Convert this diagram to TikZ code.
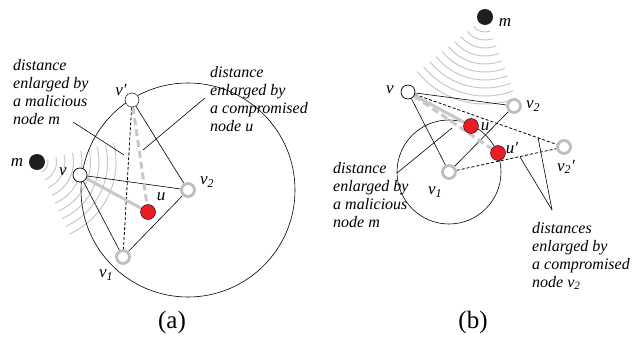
\documentclass[tikz,border=0pt]{standalone}
\usepackage{fontspec}
\setmainfont{Liberation Serif}
\usetikzlibrary{backgrounds}

\definecolor{ringgray}{RGB}{190,190,190}
\definecolor{wavegray}{RGB}{200,200,200}
\definecolor{hitred}{RGB}{232,30,38}

\tikzset{
  beacon/.style={circle, draw, fill=white, line width=0.7pt, minimum size=14pt, inner sep=0pt},
  fakepos/.style={beacon, densely dotted},
  anchorring/.style={circle, draw=ringgray, line width=2.8pt, fill=white, minimum size=13pt, inner sep=0pt},
  badnode/.style={circle, draw=black, line width=0.4pt, fill=hitred, minimum size=15pt, inner sep=0pt},
  attacker/.style={circle, fill=black!88, minimum size=16pt, inner sep=0pt},
  link/.style={line width=0.6pt},
  fakelink/.style={line width=0.8pt, dash pattern=on 3pt off 2pt},
  graylink/.style={line width=3pt, draw=wavegray},
  graydash/.style={graylink, dash pattern=on 7pt off 4pt},
  wave/.style={line width=1pt, draw=wavegray},
  callout/.style={line width=0.6pt},
  lbl/.style={font=\itshape\fontsize{17}{20}\selectfont, inner sep=0pt},
  note/.style={font=\itshape\fontsize{16}{18}\selectfont, align=left, anchor=north west, inner sep=0pt},
  caption/.style={font=\fontsize{25}{30}\selectfont, inner sep=0pt},
}

\begin{document}
\begin{tikzpicture}[x=1pt, y=-1pt, line cap=round, line join=round]

  %% ════ (a): nodes ════
  \node[attacker]   (ma)  at (37,162)  {};
  \node[beacon]     (va)  at (80,175)  {};
  \node[fakepos]    (vpa) at (132,100) {};
  \node[anchorring] (v1a) at (123,257) {};
  \node[anchorring] (v2a) at (188,190) {};
  \node[badnode]    (ua)  at (148,212) {};

  %% ════ (b): nodes ════
  \node[attacker]   (mb)   at (485,17)  {};
  \node[beacon]     (vb)   at (408,92)  {};
  \node[anchorring] (v2b)  at (514,106) {};
  \node[anchorring] (v2pb) at (564,147) {};
  \node[anchorring] (v1b)  at (449,172) {};
  \node[badnode]    (ub)   at (471,126) {};
  \node[badnode]    (upb)  at (498,153) {};

  %% ════ callout ends ════
  \coordinate (ca1) at (73,122);   \coordinate (ca2) at (124,155);
  \coordinate (ca3) at (205,98);   \coordinate (ca4) at (143,150);
  \coordinate (cb1) at (397,173);  \coordinate (cb2) at (452,128);
  \coordinate (cb3) at (552,210);
  \coordinate (cb4) at (538,137.5); \coordinate (cb5) at (520,157);

  \begin{scope}[on background layer]
    %% ════ signal arcs ════
    \foreach \r in {11,19.5,...,83}
      \draw[wave] ([shift={(-14:\r)}]ma.center) arc[start angle=-14, end angle=66, radius=\r];
    \foreach \r in {15,23,...,88}
      \draw[wave] ([shift={(69:\r)}]mb.center) arc[start angle=69, end angle=141, radius=\r];

    %% ════ (a): range circle and links ════
    \draw[link] (v2a.center) circle (107);
    \draw[link] (va) -- (v2a);
    \draw[link] (va) -- (v1a);
    \draw[link] (vpa) -- (v2a);
    \draw[link] (v1a) -- (v2a);
    \draw[fakelink] (vpa) -- (v1a);
    \draw[graylink] (va) -- (ua);
    \draw[graydash] (vpa) -- (ua);
    \draw[callout] (ca1) -- (ca2);
    \draw[callout] (ca3) -- (ca4);

    %% ════ (b): range circle and links ════
    \draw[link] (v1b.center) circle (52);
    \draw[link] (vb) -- (v2b);
    \draw[link] (vb) -- (v1b);
    \draw[link] (v1b) -- (v2b);
    \draw[fakelink] (vb) -- (v2pb);
    \draw[fakelink] (v1b) -- (v2pb);
    \draw[graylink] (vb) -- (ub);
    \draw[graydash] (vb) -- (upb);
    \draw[callout] (cb1) -- (cb2);
    \draw[callout] (cb3) -- (cb4);
    \draw[callout] (cb3) -- (cb5);
  \end{scope}

  %% ════ labels ════
  \node[lbl] (lma)  at (17,162)  {m};
  \node[lbl] (lva)  at (63,172)  {v};
  \node[lbl] (lvpa) at (121,90)  {v′};
  \node[lbl] (lv2a) at (207,182) {v\textsubscript{2}};
  \node[lbl] (lua)  at (161,197) {u};
  \node[lbl] (lv1a) at (106,275) {v\textsubscript{1}};

  \node[lbl] (lmb)   at (505,22)  {m};
  \node[lbl] (lvb)   at (390,90)  {v};
  \node[lbl] (lv2b)  at (533,106) {v\textsubscript{2}};
  \node[lbl] (lub)   at (485,127) {u};
  \node[lbl] (lupb)  at (512,148) {u′};
  \node[lbl] (lv2pb) at (566,167) {v\textsubscript{2}′};
  \node[lbl] (lv1b)  at (435,192) {v\textsubscript{1}};

  \node[note] (na1) at (13,59.5) {distance\\enlarged by\\a malicious\\node m};
  \node[note] (na2) at (210,66)  {distance\\enlarged by\\a compromised\\node u};
  \node[note] (nb1) at (333,162) {distance\\enlarged by\\a malicious\\node m};
  \node[note] (nb2) at (532,222) {distances\\enlarged by\\a compromised\\node v\textsubscript{2}};

  \node[caption] (capa) at (172,322) {(a)};
  \node[caption] (capb) at (473,322) {(b)};

  \pgfresetboundingbox
  \path[use as bounding box] (0,0) rectangle (644,339);
\end{tikzpicture}
\end{document}
